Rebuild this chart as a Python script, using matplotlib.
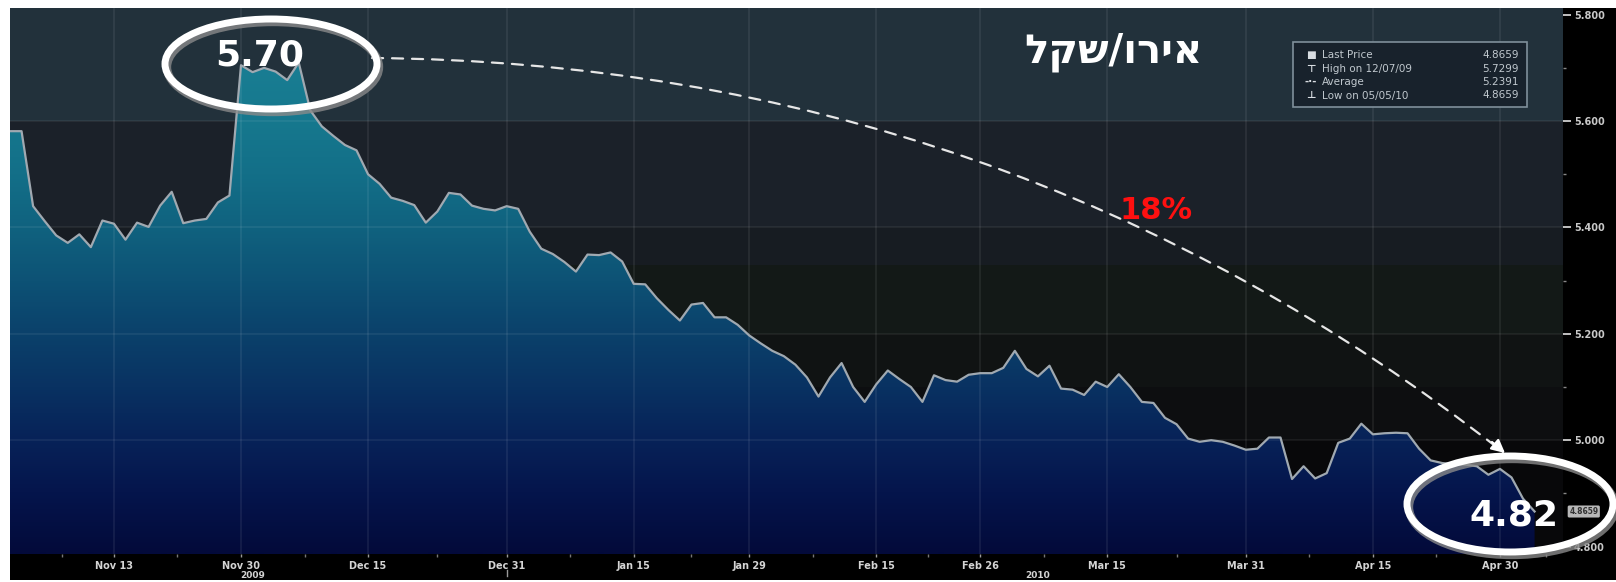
import numpy as np
import pandas as pd
import matplotlib
matplotlib.use("Agg")
import matplotlib.pyplot as plt
from matplotlib.patches import Ellipse, Rectangle, PathPatch
from matplotlib.colors import LinearSegmentedColormap, Normalize
import matplotlib.transforms as mtransforms

# ---------------- data ----------------
start_date = "2009-11-02"
end_date = "2010-05-05"
eur_ils = [
    5.581, 5.581, 5.440, 5.412, 5.385, 5.371, 5.387, 5.363, 5.413, 5.407,
    5.377, 5.409, 5.401, 5.441, 5.467, 5.408, 5.413, 5.416, 5.447, 5.460,
    5.705, 5.692, 5.700, 5.693, 5.677, 5.710, 5.620, 5.590, 5.572, 5.555,
    5.545, 5.500, 5.482, 5.456, 5.450, 5.442, 5.409, 5.430, 5.465, 5.462,
    5.441, 5.435, 5.432, 5.440, 5.435, 5.392, 5.360, 5.350, 5.335, 5.317,
    5.349, 5.348, 5.353, 5.336, 5.294, 5.293, 5.267, 5.245, 5.225, 5.255,
    5.258, 5.231, 5.231, 5.217, 5.197, 5.182, 5.168, 5.158, 5.142, 5.118,
    5.082, 5.118, 5.145, 5.100, 5.072, 5.105, 5.131, 5.115, 5.100, 5.072,
    5.122, 5.113, 5.110, 5.123, 5.126, 5.126, 5.136, 5.168, 5.134, 5.120,
    5.140, 5.097, 5.095, 5.085, 5.110, 5.100, 5.124, 5.100, 5.072, 5.070,
    5.042, 5.030, 5.003, 4.997, 5.000, 4.997, 4.990, 4.982, 4.984, 5.005,
    5.005, 4.927, 4.951, 4.928, 4.938, 4.995, 5.003, 5.031, 5.011, 5.013,
    5.014, 5.013, 4.984, 4.962, 4.957, 4.955, 4.954, 4.951, 4.935, 4.946,
    4.930, 4.890, 4.8659,
]
tick_dates = ["2009-11-13", "2009-11-30", "2009-12-15", "2009-12-31",
              "2010-01-15", "2010-01-29", "2010-02-15", "2010-02-26",
              "2010-03-15", "2010-03-31", "2010-04-15", "2010-04-30"]
tick_labels = ["Nov 13", "Nov 30", "Dec 15", "Dec 31", "Jan 15", "Jan 29",
               "Feb 15", "Feb 26", "Mar 15", "Mar 31", "Apr 15", "Apr 30"]
year_labels = ["2009", "2010"]
year_dates = ["2009-12-01", "2010-03-05"]
y_ticks = [4.8, 5.0, 5.2, 5.4, 5.6, 5.8]
title_text = "אירו/שקל"
peak_label = "5.70"
last_label = "4.82"
change_label = "18%"
legend_labels = ["Last Price", "High on 12/07/09", "Average", "Low on 05/05/10"]
legend_values = ["4.8659", "5.7299", "5.2391", "4.8659"]
last_price = 4.8659

# ---------------- layout helpers ----------------
W, H = 1616, 582
def fx(px):
    return px / W
def fy(py):
    return 1 - py / H

fig = plt.figure(figsize=(W / 100, H / 100), dpi=100, facecolor="white")
fig.add_artist(Rectangle((fx(10), 2 / H), 1606 / W, 572 / H, transform=fig.transFigure,
                         facecolor="black", edgecolor="none", zorder=-5))

ax = fig.add_axes([fx(10), fy(554), 1553 / W, 546 / H])
ax.set_facecolor("none")
for s in ax.spines.values():
    s.set_visible(False)

dates = pd.bdate_range(start_date, end_date)
x = np.arange(len(dates))
vals = np.array(eur_ils)
y0, y1 = 4.786, 5.8126
xmax = 134.46
ax.set_xlim(0, xmax)
ax.set_ylim(y0, y1)

# background bands
bands = [(5.6, 6.0, "#22313b"), (5.4, 5.6, "#1b2129"), (5.33, 5.4, "#171c22"),
         (5.2, 5.33, "#131917"), (5.1, 5.2, "#101313"), (5.0, 5.1, "#0d0e10"),
         (4.6, 5.0, "#08080a")]
for lo, hi, c in bands:
    ax.axhspan(lo, hi, color=c, lw=0, zorder=0)

# gradient fill under the line
anchors = [(4.786, "#030a3a"), (4.9, "#05154c"), (5.0, "#072258"), (5.1, "#093262"),
           (5.2, "#0b416b"), (5.3, "#0d5275"), (5.4, "#10627f"), (5.5, "#136f88"),
           (5.6, "#16788e"), (5.8126, "#1c8398")]
cmap = LinearSegmentedColormap.from_list(
    "fillgrad", [((v - y0) / (y1 - y0), c) for v, c in anchors])
grad = np.linspace(y0, y1, 512).reshape(-1, 1)
im = ax.imshow(grad, extent=[0, xmax, y0, y1], origin="lower", aspect="auto",
               cmap=cmap, norm=Normalize(y0, y1), zorder=1, interpolation="bilinear")
poly = ax.fill_between(x, vals, y0, color="none", lw=0)
clip = PathPatch(poly.get_paths()[0], transform=ax.transData, facecolor="none",
                 edgecolor="none")
ax.add_patch(clip)
im.set_clip_path(clip)

# grid
tick_pos = dates.get_indexer(pd.to_datetime(tick_dates))
for p in tick_pos:
    ax.axvline(p, color="white", alpha=0.08, lw=1.2, zorder=2)
for v in [5.0, 5.2, 5.4, 5.6]:
    ax.axhline(v, color="white", alpha=0.07, lw=1.2, zorder=2)

# price line
ax.plot(x, vals, color="#a0a9b1", lw=1.6, zorder=3)

# x axis
ax.set_xticks(tick_pos)
ax.set_xticklabels(tick_labels)
mids = (tick_pos[:-1] + tick_pos[1:]) / 2.0
ax.set_xticks(np.concatenate([[tick_pos[0] / 2.0], mids, [tick_pos[-1] + 4]]), minor=True)
ax.tick_params(axis="x", which="major", length=2, width=1, color="#9a9a9a",
               labelsize=7, labelcolor="#d4d4d4", pad=3)
ax.tick_params(axis="x", which="minor", length=2, width=1, color="#777777")
for lbl in ax.get_xticklabels():
    lbl.set_fontweight("bold")
trans_x = mtransforms.blended_transform_factory(ax.transData, ax.transAxes)
for lab, d in zip(year_labels, year_dates):
    p = dates.get_indexer(pd.to_datetime([d]))[0]
    ax.text(p, -0.0305, lab, transform=trans_x, ha="center", va="top", fontsize=6.5,
            fontweight="bold", color="#d4d4d4", clip_on=False)
p31 = tick_pos[3]
ax.plot([p31, p31], [-0.03, -0.04], transform=trans_x, color="#9a9a9a", lw=1,
        clip_on=False)

# y axis on the right
ax.yaxis.tick_right()
ax.set_yticks(y_ticks)
ax.set_yticklabels([f"{v:.3f}" for v in y_ticks])
ax.set_yticks([4.9, 5.1, 5.3, 5.5, 5.7], minor=True)
ax.tick_params(axis="y", which="major", length=6, width=1.3, color="#d0d0d0",
               labelsize=7, labelcolor="#c8c8c8", pad=2)
ax.tick_params(axis="y", which="minor", length=2, width=1, color="#888888")
for lbl in ax.get_yticklabels():
    lbl.set_fontweight("bold")

# last price tag on the axis
ax.text(1.004, last_price, f"{last_price:.4f}",
        transform=mtransforms.blended_transform_factory(ax.transAxes, ax.transData),
        ha="left", va="center", fontsize=5.5, color="#333333", fontweight="bold",
        bbox=dict(boxstyle="round,pad=0.2", fc="#b8b8b8", ec="none"), clip_on=False, zorder=5)

# legend box
fig.add_artist(Rectangle((fx(1293), fy(107)), 234 / W, 65 / H, transform=fig.transFigure,
                         facecolor="#18222c", edgecolor="#7f8f9a", lw=1.2, zorder=4))
icons = ["■", "⊤", "-·-", "⊥"]
row_y = [55, 68.5, 82, 95.5]
for ic, lab, val, ry in zip(icons, legend_labels, legend_values, row_y):
    fig.text(fx(1311), fy(ry), ic, ha="center", va="center", fontsize=7.5,
             color="#d8dde2", fontweight="bold", zorder=5)
    fig.text(fx(1322), fy(ry), lab, ha="left", va="center", fontsize=7.5,
             color="#c0c8ce", zorder=5)
    fig.text(fx(1519), fy(ry), val, ha="right", va="center", fontsize=7.5,
             color="#c0c8ce", zorder=5)

# title (matplotlib lays glyphs out left-to-right, so feed the RTL string reversed)
fig.text(fx(1113), fy(52), title_text[::-1], ha="center", va="center", fontsize=29,
         fontweight="bold", color="white", family=["DejaVu Sans", "Liberation Sans"],
         zorder=6)

# percentage change
fig.text(fx(1156), fy(210), change_label, ha="center", va="center", fontsize=22,
         fontweight="bold", color="#ff1010", zorder=6)

# dashed curved arrow
ax.annotate("", xy=(1503, H - 452), xycoords="figure pixels",
            xytext=(372, H - 58), textcoords="figure pixels",
            arrowprops=dict(arrowstyle="-", color="#e6e6e6", lw=1.6,
                            linestyle=(0, (5, 4)), connectionstyle="arc3,rad=-0.17",
                            shrinkA=0, shrinkB=0), zorder=6)
ax.annotate("", xy=(1505, H - 453), xycoords="figure pixels",
            xytext=(1492, H - 442), textcoords="figure pixels",
            arrowprops=dict(arrowstyle="-|>", color="white", lw=1.6, mutation_scale=20,
                            shrinkA=0, shrinkB=0), zorder=7)

# ellipses with shadows
for (cx, cy, ew, eh) in [(271, 64, 212, 90), (1510, 504, 206, 96)]:
    fig.add_artist(Ellipse((fx(cx + 2), fy(cy + 3)), ew / W, eh / H,
                           transform=fig.transFigure, fill=False, ec="#8a8a8a",
                           lw=6, alpha=0.8, zorder=7))
    fig.add_artist(Ellipse((fx(cx), fy(cy)), ew / W, eh / H,
                           transform=fig.transFigure, fill=False, ec="white",
                           lw=5, zorder=8))

fig.text(fx(260), fy(55), peak_label, ha="center", va="center", fontsize=26,
         fontweight="bold", color="white", zorder=9)
fig.text(fx(1514), fy(515), last_label, ha="center", va="center", fontsize=26,
         fontweight="bold", color="white", zorder=9)

fig.savefig("out.png", dpi=100, facecolor="white")
